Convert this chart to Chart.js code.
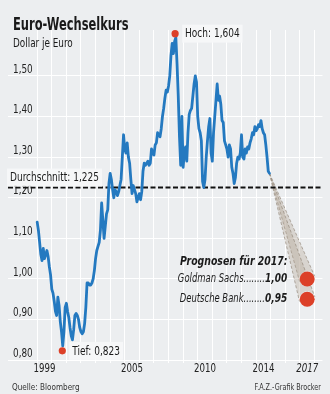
<!DOCTYPE html>
<html>
<head>
<meta charset="utf-8">
<script src="https://cdn.jsdelivr.net/npm/chart.js@4"></script>
<style>
  html, body { margin: 0; padding: 0; background: #eceef0; }
  #wrap { position: relative; width: 330px; height: 394px; }
</style>
</head>
<body>
<div id="wrap"><canvas id="chart"></canvas></div>
<script>
const FONT = "'DejaVu Sans Condensed', 'DejaVu Sans', sans-serif";

// Euro in US-Dollar, monthly values Jan..Dec
const rates1999 = [1.14, 1.12, 1.09, 1.06, 1.045, 1.075, 1.05, 1.06, 1.07, 1.055, 1.03, 1.01];
const rates2000 = [0.975, 0.965, 0.945, 0.92, 0.91, 0.955, 0.935, 0.895, 0.87, 0.835, 0.87, 0.93];
const rates2001 = [0.94, 0.92, 0.905, 0.88, 0.86, 0.85, 0.875, 0.91, 0.915, 0.91, 0.90, 0.88];
const rates2002 = [0.87, 0.865, 0.87, 0.89, 0.93, 0.99, 0.99, 0.985, 0.985, 0.99, 1.00, 1.02];
const rates2003 = [1.05, 1.07, 1.08, 1.09, 1.12, 1.187, 1.145, 1.10, 1.13, 1.16, 1.17, 1.235];
const rates2004 = [1.26, 1.245, 1.22, 1.20, 1.22, 1.215, 1.205, 1.215, 1.23, 1.245, 1.30, 1.355];
const rates2005 = [1.32, 1.31, 1.335, 1.30, 1.285, 1.245, 1.21, 1.23, 1.22, 1.21, 1.19, 1.20];
const rates2006 = [1.21, 1.195, 1.215, 1.265, 1.285, 1.28, 1.285, 1.29, 1.28, 1.285, 1.32, 1.31];
const rates2007 = [1.305, 1.33, 1.335, 1.36, 1.355, 1.35, 1.37, 1.40, 1.42, 1.445, 1.465, 1.46];
const rates2008 = [1.475, 1.50, 1.55, 1.58, 1.555, 1.585, 1.595, 1.53, 1.45, 1.35, 1.28, 1.40];
const rates2009 = [1.275, 1.31, 1.325, 1.29, 1.36, 1.405, 1.415, 1.42, 1.45, 1.48, 1.50, 1.485];
const rates2010 = [1.40, 1.37, 1.36, 1.34, 1.24, 1.225, 1.245, 1.30, 1.34, 1.375, 1.395, 1.31];
const rates2011 = [1.29, 1.36, 1.40, 1.44, 1.48, 1.44, 1.45, 1.43, 1.39, 1.385, 1.34, 1.33];
const rates2012 = [1.32, 1.30, 1.33, 1.32, 1.275, 1.26, 1.235, 1.25, 1.285, 1.30, 1.295, 1.31];
const rates2013 = [1.355, 1.30, 1.295, 1.32, 1.31, 1.325, 1.32, 1.335, 1.345, 1.36, 1.355, 1.375];
const rates2014 = [1.365, 1.37, 1.38, 1.375, 1.39, 1.37, 1.36, 1.355, 1.33, 1.30, 1.265, 1.26];

const years = [1999, 2000, 2001, 2002, 2003, 2004, 2005, 2006, 2007, 2008, 2009, 2010, 2011, 2012, 2013, 2014];
const yearlyRates = [rates1999, rates2000, rates2001, rates2002, rates2003, rates2004, rates2005, rates2006,
                     rates2007, rates2008, rates2009, rates2010, rates2011, rates2012, rates2013, rates2014];

const averageRate = 1.225;
const highRate = 1.604, highDate = 2008.45;
const lowRate = 0.823, lowDate = 2000.72;

const banks = ['Goldman Sachs', 'Deutsche Bank'];
const forecast2017 = [1.00, 0.95];
const forecastDate = 2017.5;

const gridYears = [1999, 2000, 2001, 2002, 2003, 2004, 2005, 2006, 2007, 2008, 2009,
                   2010, 2011, 2012, 2013, 2014, 2015, 2016, 2017, 2018];
const labelYears = [1999, 2005, 2010, 2014, 2017];
const rateTicks = [0.8, 0.9, 1.0, 1.1, 1.2, 1.3, 1.4, 1.5];

const xMin = 1997, xMax = 2018.55;
const yMin = 0.793, yMax = 1.613;

const fmt = (v, d) => v.toFixed(d).replace('.', ',');

const ratePoints = [];
years.forEach((yr, i) => yearlyRates[i].forEach((v, m) => ratePoints.push({ x: yr + m / 12, y: v })));
const lastPoint = ratePoints[ratePoints.length - 1];
const forecastPoints = forecast2017.map(v => ({ x: forecastDate, y: v }));

const RED = '#dc4028';
const INK = '#1a1a1a';
const SX = 0.8; // narrow lettering

function font(size, weight, style) {
  return (style || 'normal') + ' ' + (weight || 'normal') + ' ' + size + 'px ' + FONT;
}

// draws horizontally condensed text, returns its drawn width
function drawText(ctx, text, x, y, f, align, sx) {
  sx = sx || SX;
  ctx.font = f;
  const w = ctx.measureText(text).width * sx;
  let left = x;
  if (align === 'right') left = x - w;
  else if (align === 'center') left = x - w / 2;
  ctx.save();
  ctx.translate(left, y);
  ctx.scale(sx, 1);
  ctx.textAlign = 'left';
  ctx.fillText(text, 0, 0);
  ctx.restore();
  return w;
}

function labelBox(ctx, text, x, y, f) {
  ctx.font = f;
  const w = ctx.measureText(text).width * SX;
  ctx.fillStyle = 'rgba(246,247,248,0.92)';
  ctx.fillRect(x - 3, y - 9, w + 6, 18);
  ctx.fillStyle = INK;
  ctx.textBaseline = 'middle';
  drawText(ctx, text, x, y + 0.5, f, 'left');
}

const decor = {
  id: 'decor',
  beforeDatasetsDraw(chart) {
    const { ctx, chartArea, scales: { x, y } } = chart;
    ctx.save();
    // axis labels
    ctx.fillStyle = '#222';
    ctx.textBaseline = 'middle';
    rateTicks.forEach(v => drawText(ctx, fmt(v, 2), chartArea.left + 5, y.getPixelForValue(v) - 6.5, font(12.3), 'left'));
    labelYears.forEach(v => drawText(ctx, String(v), x.getPixelForValue(v + 0.5), chartArea.bottom + 6,
      font(12.5, 'normal', v === 2017 ? 'italic' : 'normal'), 'center', 0.77));

    // forecast cones
    const ax = x.getPixelForValue(lastPoint.x), ay = y.getPixelForValue(lastPoint.y);
    forecastPoints.forEach(p => {
      const px = x.getPixelForValue(p.x), py = y.getPixelForValue(p.y);
      const dx = px - ax, dy = py - ay, len = Math.hypot(dx, dy);
      const nx = -dy / len, ny = dx / len, r = 8;
      ctx.beginPath();
      ctx.moveTo(ax, ay);
      ctx.lineTo(px + nx * r, py + ny * r);
      ctx.arc(px, py, r, Math.atan2(ny, nx), Math.atan2(-ny, -nx), false);
      ctx.lineTo(px - nx * r, py - ny * r);
      ctx.closePath();
      ctx.fillStyle = 'rgba(180,166,150,0.36)';
      ctx.fill();
      ctx.setLineDash([3, 2]);
      ctx.strokeStyle = 'rgba(150,138,126,0.7)';
      ctx.lineWidth = 1;
      ctx.beginPath();
      ctx.moveTo(ax, ay); ctx.lineTo(px + nx * r, py + ny * r);
      ctx.moveTo(ax, ay); ctx.lineTo(px - nx * r, py - ny * r);
      ctx.stroke();
      ctx.setLineDash([]);
    });
    ctx.restore();
  },
  afterDatasetsDraw(chart) {
    const { ctx, chartArea, scales: { x, y } } = chart;
    ctx.save();
    // average, high and low labels
    labelBox(ctx, 'Durchschnitt: ' + fmt(averageRate, 3), chartArea.left + 2, y.getPixelForValue(averageRate) - 10, font(12.5));
    labelBox(ctx, 'Hoch: ' + fmt(highRate, 3), x.getPixelForValue(highDate) + 10, y.getPixelForValue(highRate), font(12.5));
    labelBox(ctx, 'Tief: ' + fmt(lowRate, 3), x.getPixelForValue(lowDate) + 10, y.getPixelForValue(lowRate), font(12.5));

    // forecast block
    const right = x.getPixelForValue(forecastDate) - 20;
    const firstY = y.getPixelForValue(forecast2017[0]);
    ctx.textBaseline = 'middle';
    ctx.fillStyle = INK;
    drawText(ctx, 'Prognosen für 2017:', 180, firstY - 17, font(13, 'bold', 'italic'), 'left');
    forecast2017.forEach((v, i) => {
      const py = y.getPixelForValue(v);
      const vw = drawText(ctx, fmt(v, 2), right, py, font(12.5, 'bold', 'italic'), 'right');
      drawText(ctx, banks[i] + '........', right - vw, py, font(12.5, 'normal', 'italic'), 'right', 0.75);
    });

    // titles and source lines
    ctx.textBaseline = 'alphabetic';
    drawText(ctx, 'Euro-Wechselkurs', 13, 30, font(17, 'bold'), 'left', 0.75);
    drawText(ctx, 'Dollar je Euro', 13, 47, font(12), 'left', 0.82);
    ctx.fillStyle = '#333';
    drawText(ctx, 'Quelle: Bloomberg', 12, 390, font(9.5), 'left', 0.85);
    drawText(ctx, 'F.A.Z.-Grafik Brocker', 321, 390, font(9.5), 'right', 0.76);
    ctx.restore();
  }
};

new Chart(document.getElementById('chart'), {
  type: 'line',
  data: {
    datasets: [
      { label: 'Prognosen', data: forecastPoints, showLine: false, pointRadius: 7.5,
        pointBackgroundColor: RED, pointBorderWidth: 0, pointHoverRadius: 7.5 },
      { label: 'Hoch/Tief', data: [{ x: highDate, y: highRate }, { x: lowDate, y: lowRate }], showLine: false,
        pointRadius: 3.6, pointBackgroundColor: RED, pointBorderWidth: 0 },
      { label: 'Kurs', data: ratePoints, borderColor: '#2479c0', borderWidth: 2.8, pointRadius: 0,
        tension: 0, borderJoinStyle: 'round', borderCapStyle: 'round' },
      { label: 'Durchschnitt', data: [{ x: xMin, y: averageRate }, { x: xMax, y: averageRate }],
        borderColor: '#111', borderWidth: 2, borderDash: [5, 2.5], pointRadius: 0 }
    ]
  },
  options: {
    responsive: true,
    maintainAspectRatio: false,
    animation: false,
    events: [],
    layout: { padding: { left: 8, right: 7, top: 30, bottom: 0 } },
    plugins: { legend: { display: false }, tooltip: { enabled: false } },
    scales: {
      x: {
        type: 'linear', min: xMin, max: xMax,
        afterBuildTicks: s => { s.ticks = gridYears.map(v => ({ value: v })); },
        afterFit: s => { s.height = 31; },
        grid: { color: '#ffffff', lineWidth: 1, drawTicks: false },
        border: { display: false },
        ticks: { display: false }
      },
      y: {
        type: 'linear', min: yMin, max: yMax,
        afterBuildTicks: s => { s.ticks = rateTicks.map(v => ({ value: v })); },
        afterFit: s => { s.width = 0; },
        grid: { color: '#ffffff', lineWidth: 1, drawTicks: false },
        border: { display: false },
        ticks: { display: false }
      }
    }
  },
  plugins: [decor]
});
</script>
</body>
</html>
